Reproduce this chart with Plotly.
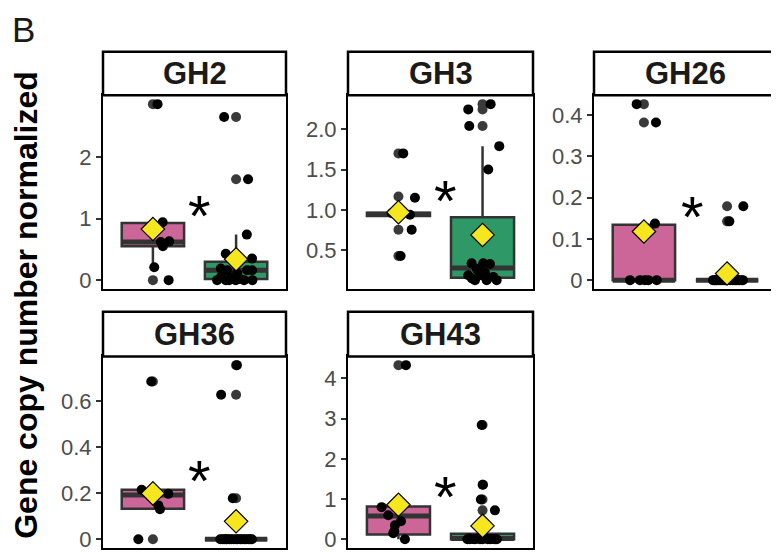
import plotly.graph_objects as go

# page body has an 8px margin, so the figure is drawn 8px smaller and shifted
OFF = 8
W, H = 779 - OFF, 554 - OFF

# ---------------- data ----------------
panel_names = ["GH2", "GH3", "GH26", "GH36", "GH43"]
group_pos = [1, 2]  # pink group, green group
star_x = [1.56, 1.56, 1.58, 1.56, 1.56]
star_y = [1.20, 1.23, 0.175, 0.296, 1.30]

# tick values / labels
gh2_ticks = [0, 1, 2]
gh2_ticklabels = ["0", "1", "2"]
gh3_ticks = [0.5, 1.0, 1.5, 2.0]
gh3_ticklabels = ["0.5", "1.0", "1.5", "2.0"]
gh26_ticks = [0, 0.1, 0.2, 0.3, 0.4]
gh26_ticklabels = ["0", "0.1", "0.2", "0.3", "0.4"]
gh36_ticks = [0, 0.2, 0.4, 0.6]
gh36_ticklabels = ["0", "0.2", "0.4", "0.6"]
gh43_ticks = [0, 1, 2, 3, 4]
gh43_ticklabels = ["0", "1", "2", "3", "4"]

# GH2
gh2_pink_vals = [2.86, 0.94, 0.62, 0.63, 0.55, 0.21, 0.0]
gh2_pink_jit = [0.056, 0.117, 0.096, 0.196, 0.12, 0.016, 0.189]
gh2_pink_out = [2.86, 0.0]
gh2_pink_box = [0.55, 0.62, 0.93, 0.21, 0.94]   # q1, median, q3, low, high
gh2_pink_mean = 0.83
gh2_green_vals = [2.65, 1.64, 0.74, 0.43, 0.35, 0.19, 0.16, 0.16, 0.16, 0.11,
                  0.0, 0.0, 0.0, 0.0, 0.0, 0.04, 0.02, 0.06, 0.0]
gh2_green_jit = [-0.144, 0.144, 0.129, -0.124, 0.192, -0.184, -0.108, 0.132, 0.192, 0.012,
                 -0.228, -0.124, -0.004, 0.096, 0.196, -0.06, 0.048, -0.18, -0.084]
gh2_green_out = [2.65, 1.64]
gh2_green_box = [0.02, 0.16, 0.30, 0.0, 0.74]
gh2_green_mean = 0.34

# GH3
gh3_pink_vals = [1.70, 1.15, 0.94, 0.95, 0.755, 0.43, 0.96]
gh3_pink_jit = [0.057, 0.196, 0.137, -0.006, 0.157, 0.026, -0.077]
gh3_pink_out = [1.70, 1.165, 0.755, 0.43]
gh3_pink_box = [0.925, 0.945, 0.965, 0.925, 0.965]
gh3_pink_mean = 0.97
gh3_green_vals = [2.245, 2.31, 2.04, 1.79, 1.50, 0.34, 0.34, 0.33, 0.27, 0.19,
                  0.19, 0.13, 0.13, 0.17, 0.13, 0.22, 0.25, 0.15]
gh3_green_jit = [-0.170, 0.096, -0.158, 0.199, 0.068, -0.130, 0.008, 0.088, -0.070, -0.031,
                 -0.170, 0.049, 0.168, 0.127, -0.090, 0.029, -0.055, -0.126]
gh3_green_out = [2.31, 2.245, 2.04]
gh3_green_box = [0.16, 0.28, 0.91, 0.13, 1.79]
gh3_green_mean = 0.69

# GH26
gh26_pink_vals = [0.4266, 0.382, 0.137, 0.0, 0.0, 0.0, 0.0, 0.0]
gh26_pink_jit = [-0.087, 0.145, 0.133, -0.167, -0.047, 0.053, 0.154, 0.013]
gh26_pink_out = [0.4266, 0.382]
gh26_pink_box = [0.0, 0.0, 0.134, 0.0, 0.137]
gh26_pink_mean = 0.118
gh26_green_vals = [0.179, 0.1425] + [0.0] * 18
gh26_green_jit = [0.195, 0.027, -0.17, -0.15, -0.125, -0.061, -0.013, 0.035, 0.095, 0.176,
                  0.19, -0.10, -0.08, -0.037, 0.131, 0.15, -0.14, 0.071, 0.11, -0.02]
gh26_green_out = [0.179, 0.1425]
gh26_green_box = [0.0, 0.0, 0.0, 0.0, 0.0]
gh26_green_mean = 0.016

# GH36
gh36_pink_vals = [0.684, 0.215, 0.197, 0.147, 0.0, 0.19, 0.13]
gh36_pink_jit = [-0.02, -0.135, 0.185, 0.065, -0.175, -0.035, 0.085]
gh36_pink_out = [0.684, 0.0]
gh36_pink_box = [0.132, 0.192, 0.215, 0.132, 0.215]
gh36_pink_mean = 0.199
gh36_green_vals = [0.755, 0.627, 0.178] + [0.0] * 17
gh36_green_jit = [0.01, -0.18, -0.04, -0.19, -0.16, -0.14, -0.11, -0.08, -0.06, -0.03, 0.0,
                  0.02, 0.05, 0.07, 0.10, 0.12, 0.15, 0.17, 0.19, -0.12]
gh36_green_out = [0.755, 0.627, 0.178]
gh36_green_box = [0.0, 0.0, 0.0, 0.0, 0.0]
gh36_green_mean = 0.078

# GH43
gh43_pink_vals = [4.33, 0.80, 0.60, 0.35, 0.15, 0.0, 0.45, 0.2]
gh43_pink_jit = [0.089, -0.2, -0.121, -0.042, -0.062, 0.077, 0.03, -0.05]
gh43_pink_out = [4.33]
gh43_pink_box = [0.12, 0.578, 0.816, 0.0, 0.816]
gh43_pink_mean = 0.858
gh43_green_vals = [2.84, 1.355, 0.99, 0.72] + [0.0, 0.0, 0.01, 0.0, 0.02, 0.0, 0.0,
                                             0.03, 0.0, 0.0, 0.01, 0.0, 0.0, 0.02]
gh43_green_jit = [-0.01, 0.005, -0.02, 0.147, -0.18, -0.15, -0.12, -0.09, -0.06, -0.03, 0.0,
                  0.03, 0.06, 0.09, 0.12, 0.15, 0.17, -0.16]
gh43_green_out = [2.84, 1.355, 0.99, 0.72]
gh43_green_box = [0.0, 0.02, 0.14, 0.0, 0.30]
gh43_green_mean = 0.333

panels = [
    dict(name="GH2", ticks=gh2_ticks, labels=gh2_ticklabels,
         groups=[(gh2_pink_vals, gh2_pink_jit, gh2_pink_out, gh2_pink_box, gh2_pink_mean),
                 (gh2_green_vals, gh2_green_jit, gh2_green_out, gh2_green_box, gh2_green_mean)]),
    dict(name="GH3", ticks=gh3_ticks, labels=gh3_ticklabels,
         groups=[(gh3_pink_vals, gh3_pink_jit, gh3_pink_out, gh3_pink_box, gh3_pink_mean),
                 (gh3_green_vals, gh3_green_jit, gh3_green_out, gh3_green_box, gh3_green_mean)]),
    dict(name="GH26", ticks=gh26_ticks, labels=gh26_ticklabels,
         groups=[(gh26_pink_vals, gh26_pink_jit, gh26_pink_out, gh26_pink_box, gh26_pink_mean),
                 (gh26_green_vals, gh26_green_jit, gh26_green_out, gh26_green_box, gh26_green_mean)]),
    dict(name="GH36", ticks=gh36_ticks, labels=gh36_ticklabels,
         groups=[(gh36_pink_vals, gh36_pink_jit, gh36_pink_out, gh36_pink_box, gh36_pink_mean),
                 (gh36_green_vals, gh36_green_jit, gh36_green_out, gh36_green_box, gh36_green_mean)]),
    dict(name="GH43", ticks=gh43_ticks, labels=gh43_ticklabels,
         groups=[(gh43_pink_vals, gh43_pink_jit, gh43_pink_out, gh43_pink_box, gh43_pink_mean),
                 (gh43_green_vals, gh43_green_jit, gh43_green_out, gh43_green_box, gh43_green_mean)]),
]

# ---------------- styling / layout ----------------
FILLS = ["#CC6699", "#2E9966"]
EDGE = "#333333"
YELLOW = "#F5E61E"
FONT = "Liberation Sans, Arial, sans-serif"
BOX_W = 0.75

# panel pixel boxes in the reference (x0, x1) and (strip_top, plot_top, plot_bottom)
cols = [(103, 286), (348, 533), (594, 777)]
rows = [(52, 96, 291), (314, 359, 552)]
cells = [(0, 0), (0, 1), (0, 2), (1, 0), (1, 1)]


def px(xp):
    return (xp - OFF) / W


def py(yp):
    return 1 - (yp - OFF) / H


fig = go.Figure()
layout = dict(width=W, height=H, margin=dict(l=0, r=0, t=0, b=0),
              paper_bgcolor="white", plot_bgcolor="white", showlegend=False,
              boxmode="overlay", shapes=[], annotations=[])

for i, (p, (r, c)) in enumerate(zip(panels, cells)):
    sfx = "" if i == 0 else str(i + 1)
    xa, ya = "x" + sfx, "y" + sfx
    x0, x1 = cols[c]
    st, pt, pb = rows[r]
    allv = p["groups"][0][0] + p["groups"][1][0]
    lo, hi = min(allv), max(allv)
    span = hi - lo
    layout["xaxis" + sfx] = dict(domain=[px(x0), px(x1)], range=[0.4, 2.6], anchor=ya,
                                  showticklabels=False, ticks="", showgrid=False, zeroline=False,
                                  showline=True, mirror=True, linecolor="black", linewidth=2)
    layout["yaxis" + sfx] = dict(domain=[py(pb), py(pt)], anchor=xa,
                                  range=[lo - 0.05 * span, hi + 0.05 * span],
                                  tickvals=p["ticks"], ticktext=p["labels"],
                                  ticks="outside", ticklen=5, tickwidth=2, tickcolor=EDGE,
                                  tickfont=dict(family=FONT, size=22, color="#4D4D4D"),
                                  showgrid=False, zeroline=False,
                                  showline=True, mirror=True, linecolor="black", linewidth=2)
    # strip
    layout["shapes"].append(dict(type="rect", xref="paper", yref="paper",
                                 x0=px(x0), x1=px(x1), y0=py(pt), y1=py(st),
                                 fillcolor="white", line=dict(color="black", width=2.5)))
    layout["annotations"].append(dict(text="<b>%s</b>" % p["name"], xref="paper", yref="paper",
                                      x=px((x0 + x1) / 2), y=py((st + pt) / 2),
                                      xanchor="center", yanchor="middle", showarrow=False,
                                      font=dict(family=FONT, size=31, color="#1A1A1A")))
    # asterisk
    layout["annotations"].append(dict(text="*", xref=xa, yref=ya, x=star_x[i], y=star_y[i],
                                      xanchor="center", yanchor="middle", showarrow=False,
                                      yshift=-9,
                                      font=dict(family=FONT, size=58, color="black")))

    for g, (vals, jit, out, box, mean) in enumerate(p["groups"]):
        xc = group_pos[g]
        q1, med, q3, wlo, whi = box
        fig.add_trace(go.Box(x=[xc], q1=[q1], median=[med], q3=[q3],
                             lowerfence=[wlo], upperfence=[whi], width=BOX_W,
                             fillcolor=FILLS[g], line=dict(color=EDGE, width=2.5),
                             whiskerwidth=0, boxpoints=False, hoverinfo="skip",
                             xaxis=xa, yaxis=ya))
        # thick median (ggplot fatten)
        fig.add_trace(go.Scatter(x=[xc - BOX_W / 2, xc + BOX_W / 2], y=[med, med], mode="lines",
                                 line=dict(color=EDGE, width=5), xaxis=xa, yaxis=ya,
                                 hoverinfo="skip"))
        # outliers from boxplot (at group centre)
        fig.add_trace(go.Scatter(x=[xc] * len(out), y=out, mode="markers",
                                 marker=dict(color="#3A3A3A", size=10, line=dict(width=0)),
                                 xaxis=xa, yaxis=ya))
        # jittered observations
        fig.add_trace(go.Scatter(x=[xc + j for j in jit], y=vals, mode="markers",
                                 marker=dict(color="black", size=10, line=dict(width=0)),
                                 xaxis=xa, yaxis=ya))
        # mean
        fig.add_trace(go.Scatter(x=[xc], y=[mean], mode="markers",
                                 marker=dict(symbol="diamond", color=YELLOW, size=18,
                                             line=dict(color="black", width=1.2)),
                                 xaxis=xa, yaxis=ya))

layout["annotations"].append(dict(text="<b>Gene copy number normalized</b>", xref="paper",
                                  yref="paper", x=px(26), y=py(307), xanchor="center",
                                  yanchor="middle", textangle=-90, showarrow=False,
                                  font=dict(family=FONT, size=32, color="black")))
layout["annotations"].append(dict(text="B", xref="paper", yref="paper", x=px(10), y=1,
                                  xanchor="left", yanchor="top", showarrow=False,
                                  font=dict(family=FONT, size=35, color="#1A1A1A")))

fig.update_layout(**layout)
fig.write_html("out.html")
